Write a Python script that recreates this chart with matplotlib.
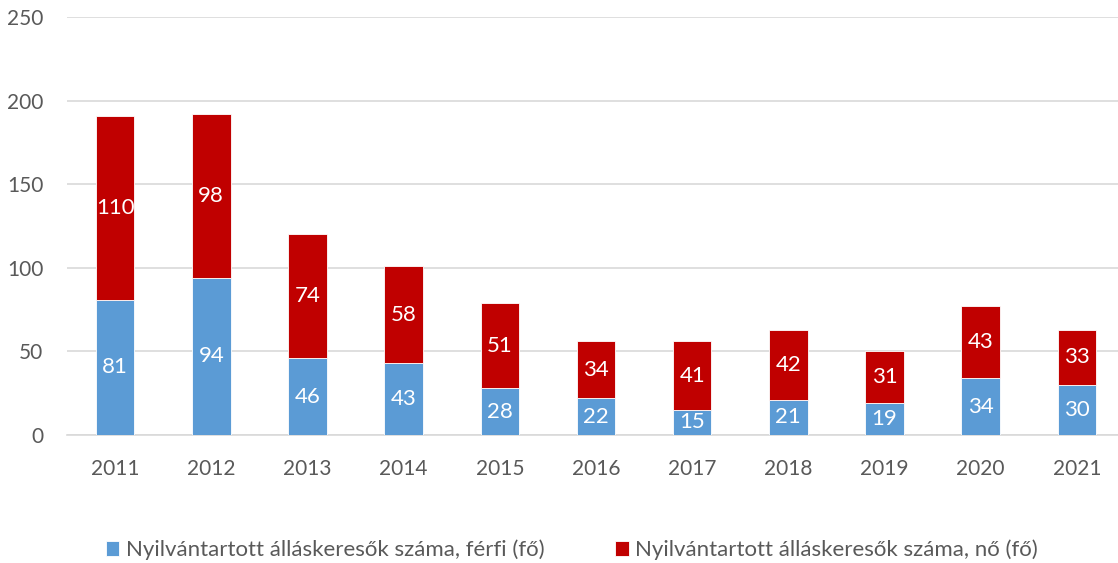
import matplotlib
matplotlib.use("Agg")
import matplotlib.pyplot as plt
import numpy as np

years = ["2011", "2012", "2013", "2014", "2015", "2016", "2017", "2018", "2019", "2020", "2021"]
male = [81, 94, 46, 43, 28, 22, 15, 21, 19, 34, 30]
female = [110, 98, 74, 58, 51, 34, 41, 42, 31, 43, 33]
male_label = "Nyilvántartott álláskeresők száma, férfi (fő)"
female_label = "Nyilvántartott álláskeresők száma, nő (fő)"
yticks = [0, 50, 100, 150, 200, 250]

plt.rcParams['font.family'] = ['Lato', 'DejaVu Sans']
blue = "#5B9BD5"
red = "#C00000"
txt = "#595959"

fig = plt.figure(figsize=(11.18, 5.63), dpi=100)
ax = fig.add_axes([67/1118, 1 - 435/563, (1125 - 67)/1118, (435 - 17)/563])

x = np.arange(len(years))
w = 0.4
b1 = ax.bar(x, male, w, color=blue, label=male_label, zorder=3, edgecolor="white", linewidth=0.6)
b2 = ax.bar(x, female, w, bottom=male, color=red, label=female_label, zorder=3, edgecolor="white", linewidth=0.6)

for xi, m, f in zip(x, male, female):
    ax.text(xi, m / 2, str(m), ha="center", va="center", color="white", fontsize=16)
    ax.text(xi, m + f / 2, str(f), ha="center", va="center", color="white", fontsize=16)

ax.set_xlim(-0.5, len(years) - 0.5)
ax.set_ylim(0, 250)
ax.set_yticks(yticks)
ax.set_xticks(x)
ax.set_xticklabels(years)
ax.tick_params(axis="both", length=0, labelsize=15, colors=txt)
ax.tick_params(axis="x", pad=17)
ax.tick_params(axis="y", pad=17)
ax.yaxis.grid(True, color="#D9D9D9", linewidth=1.2, zorder=0)
for s in ["top", "right", "left"]:
    ax.spines[s].set_visible(False)
ax.spines["bottom"].set_color("#D9D9D9")
ax.spines["bottom"].set_linewidth(1.2)
ax.set_axisbelow(True)

fig.legend(handles=[b1, b2], labels=[male_label, female_label], loc="center",
           bbox_to_anchor=(572/1118, 1 - 550/563), ncol=2, frameon=False,
           fontsize=16, labelcolor=txt, handlelength=0.6, handleheight=0.6,
           handletextpad=0.3, columnspacing=3.2)

fig.savefig("out.png", dpi=100)
